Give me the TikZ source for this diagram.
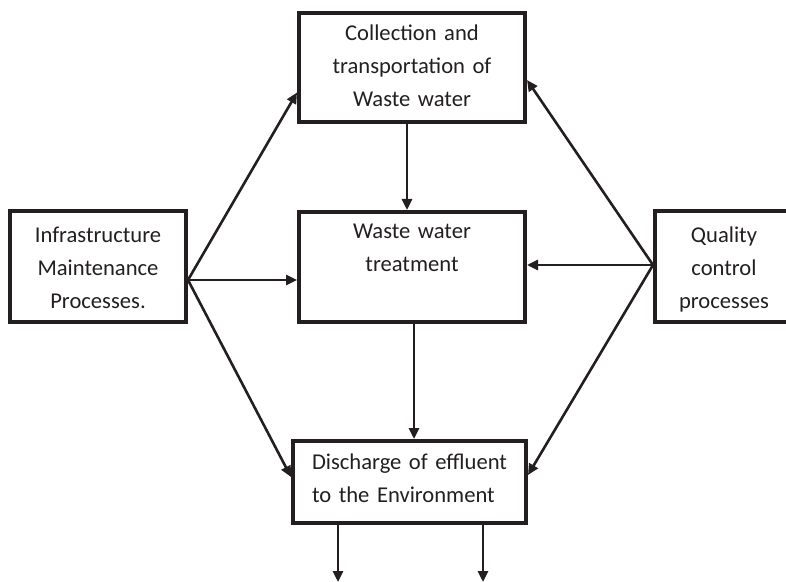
\documentclass[tikz,border=0pt]{standalone}
\usepackage{fontspec}
\setmainfont{Carlito}
\usetikzlibrary{arrows.meta}
\usetikzlibrary{calc}
\usepackage{xcolor}
\definecolor{ink}{HTML}{231F20}

\begin{document}
\begin{tikzpicture}[x=0.5pt,y=-0.5pt,
        box/.style={draw=ink, line width=2pt, inner xsep=0pt, inner ysep=0pt, align=center, text=ink,
            font=\fontsize{11.3}{16.5}\selectfont},
        flow/.style={draw=ink, line width=1.3pt, -{Triangle[length=5.5pt,width=5pt]}}]
        \useasboundingbox (0,0) rectangle (786,582);
        \clip (0,0) rectangle (786,582);

        \coordinate (T) at (412,67.5);
        \coordinate (M) at (412,267);
        \coordinate (L) at (98,266.5);
        \coordinate (R) at (724,266.5);
        \coordinate (B) at (409.5,482);
        \coordinate (outL) at (338,582);
        \coordinate (outR) at (483,582);

        \node[box, text width=113pt, text height=14pt, text depth=40.5pt] (collect) at (T) {Collection and\\transportation of\\Waste water};
        \node[box, text width=113pt, text height=13.5pt, text depth=41.5pt] (treat) at (M) {Waste water\\treatment};
        \node[box, text width=88pt, text height=16pt, text depth=39.5pt] (infra) at (L) {Infrastructure\\Maintenance\\Processes.};
        \node[box, text width=69pt, text height=16pt, text depth=39.5pt] (quality) at (R) {Quality\\control\\processes};
        \node[box, align=left, inner xsep=9.5pt, text width=97.5pt, text height=14pt, text depth=27pt] (discharge) at (B) {Discharge of effluent\\to the Environment};

        % main line
        \draw[flow] ($(collect.south)+(-5,0)$) -- ($(treat.north)+(-5,0)$);
        \draw[flow] ($(treat.south)+(2,0)$) -- ($(discharge.north)+(4.5,0)$);

        % maintenance
        \draw[flow] ($(infra.east)+(0,13.5)$) -- ($(collect.west)+(0,25)$);
        \draw[flow] ($(infra.east)+(0,13.5)$) -- ($(treat.west)+(0,13)$);
        \draw[flow] ($(infra.east)+(0,13.5)$) -- ($(discharge.west)+(0,-5)$);

        % quality control
        \draw[flow] ($(quality.west)+(0,-1.5)$) -- ($(collect.east)+(0,12.5)$);
        \draw[flow] ($(quality.west)+(0,-1.5)$) -- ($(treat.east)+(0,-2)$);
        \draw[flow] ($(quality.west)+(0,-1.5)$) -- ($(discharge.east)+(0,-7)$);

        \foreach \o in {outL,outR}{
            \draw[flow] (discharge.south -| \o) -- (\o);
        }
    \end{tikzpicture}
\end{document}
